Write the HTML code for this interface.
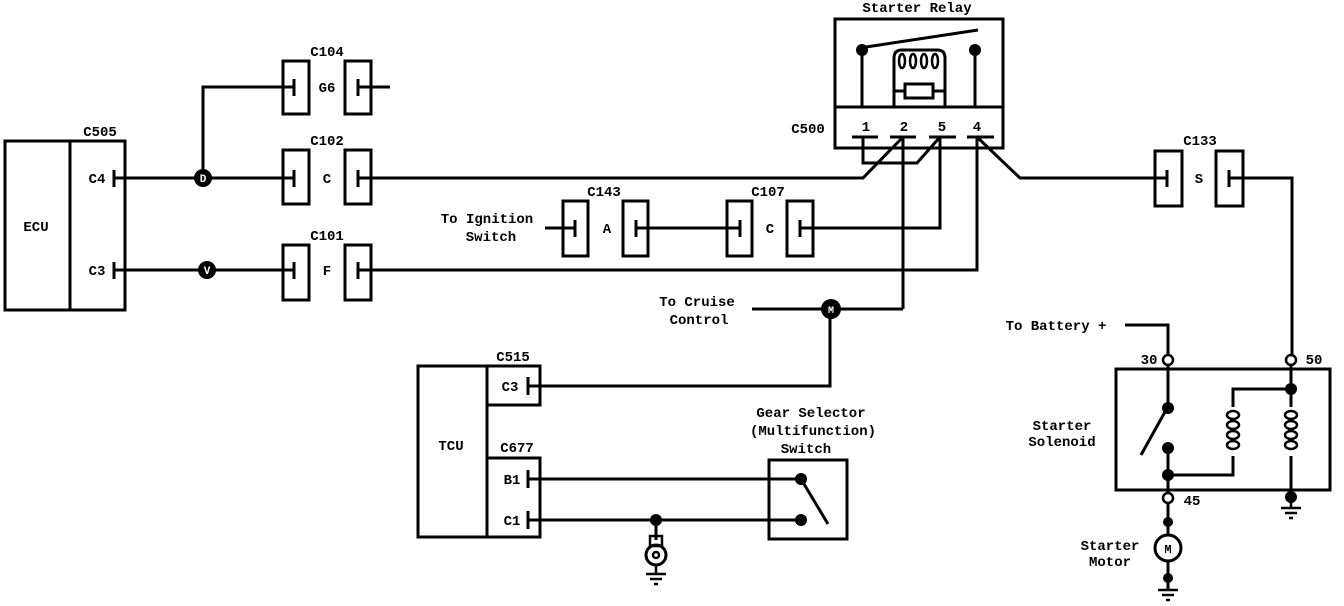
<!DOCTYPE html>
<html><head><meta charset="utf-8"><style>
html,body{margin:0;padding:0;background:#fff;}
svg{display:block}
text{font-family:"Liberation Mono",monospace;font-weight:bold;font-size:14px;fill:#000;text-anchor:middle}
</style></head><body>
<svg width="1344" height="606" viewBox="0 0 1344 606" xmlns="http://www.w3.org/2000/svg">
<g fill="none" stroke="#000" stroke-width="3">
<rect x="5" y="141" width="120" height="169"/>
<line x1="70" y1="141" x2="70" y2="310"/>
<line x1="114" y1="170" x2="114" y2="187"/>
<line x1="114" y1="262" x2="114" y2="279"/>
<line x1="115" y1="178" x2="294" y2="178"/>
<polyline points="203,178 203,87 294,87"/>
<line x1="115" y1="270" x2="294" y2="270"/>
<rect x="283" y="61" width="26" height="53"/><rect x="345" y="61" width="26" height="53"/>
<rect x="283" y="150" width="26" height="54"/><rect x="345" y="150" width="26" height="54"/>
<rect x="283" y="245" width="26" height="55"/><rect x="345" y="245" width="26" height="55"/>
<line x1="294" y1="79" x2="294" y2="96"/><line x1="358" y1="79" x2="358" y2="96"/>
<line x1="358" y1="87" x2="390" y2="87"/>
<line x1="294" y1="170" x2="294" y2="187"/><line x1="358" y1="170" x2="358" y2="187"/>
<line x1="294" y1="262" x2="294" y2="279"/><line x1="358" y1="262" x2="358" y2="279"/>
<polyline points="358,178 863,178 903,137"/>
<polyline points="358,270 977,270 977,137"/>
<rect x="563" y="201" width="25" height="55"/><rect x="623" y="201" width="25" height="55"/>
<rect x="727" y="201" width="25" height="55"/><rect x="787" y="201" width="26" height="55"/>
<line x1="575" y1="220" x2="575" y2="237"/><line x1="636" y1="220" x2="636" y2="237"/>
<line x1="740" y1="220" x2="740" y2="237"/><line x1="800" y1="220" x2="800" y2="237"/>
<line x1="545" y1="228" x2="575" y2="228"/>
<line x1="636" y1="228" x2="740" y2="228"/>
<polyline points="800,228 940,228 940,137"/>
<rect x="835" y="19" width="168" height="129"/>
<line x1="835" y1="107" x2="1003" y2="107"/>
<line x1="862" y1="50" x2="862" y2="107"/><line x1="975" y1="50" x2="975" y2="107"/>
<line x1="866" y1="47" x2="978" y2="30"/>
<path d="M894,107 V58 Q894,50 902,50 H937 Q945,50 945,58 V107"/>
<rect x="905" y="84" width="28" height="14"/>
<line x1="894" y1="91" x2="905" y2="91"/><line x1="933" y1="91" x2="945" y2="91"/>
<line x1="852" y1="137" x2="878" y2="137"/><line x1="890" y1="137" x2="916" y2="137"/>
<line x1="929" y1="137" x2="956" y2="137"/><line x1="967" y1="137" x2="994" y2="137"/>
<polyline points="863,137 863,163 917,163 940,137"/>
<line x1="903" y1="137" x2="903" y2="309"/>
<polyline points="977,137 1020,178 1167,178"/>
<rect x="1155" y="151" width="27" height="55"/><rect x="1216" y="151" width="27" height="55"/>
<line x1="1167" y1="170" x2="1167" y2="187"/><line x1="1229" y1="170" x2="1229" y2="187"/>
<polyline points="1229,178 1292,178 1292,355"/>
<line x1="752" y1="309" x2="903" y2="309"/>
<polyline points="830,309 830,386 528,386"/>
<rect x="418" y="366" width="69" height="171"/>
<rect x="487" y="366" width="53" height="39"/>
<rect x="487" y="458" width="53" height="79"/>
<line x1="528" y1="377" x2="528" y2="395"/>
<line x1="528" y1="470" x2="528" y2="488"/>
<line x1="528" y1="511" x2="528" y2="529"/>
<line x1="528" y1="479" x2="801" y2="479"/>
<line x1="528" y1="520" x2="801" y2="520"/>
<rect x="769" y="460" width="78" height="79"/>
<line x1="801" y1="479" x2="828" y2="524"/>
<line x1="656" y1="520" x2="656" y2="540"/>
<polyline points="1125,325 1168,325 1168,355"/>
<rect x="1116" y="369" width="214" height="121"/>
<line x1="1168" y1="365" x2="1168" y2="408"/>
<line x1="1166" y1="410" x2="1141" y2="455"/>
<polyline points="1168,448 1168,475 1233,475 1233,456"/>
<polyline points="1233,407 1233,389 1291,389 1291,365"/>
<line x1="1291" y1="389" x2="1291" y2="407"/>
<line x1="1291" y1="456" x2="1291" y2="497"/>
<line x1="1168" y1="475" x2="1168" y2="493"/>
<line x1="1168" y1="503" x2="1168" y2="535"/>
<line x1="1168" y1="561" x2="1168" y2="590"/>
</g>
<g fill="none" stroke="#000" stroke-width="2.5">
<ellipse cx="1233" cy="415" rx="6" ry="4"/><ellipse cx="1233" cy="425" rx="6" ry="4"/><ellipse cx="1233" cy="435" rx="6" ry="4"/><ellipse cx="1233" cy="445" rx="6" ry="4"/>
<ellipse cx="1291" cy="415" rx="6" ry="4"/><ellipse cx="1291" cy="425" rx="6" ry="4"/><ellipse cx="1291" cy="435" rx="6" ry="4"/><ellipse cx="1291" cy="445" rx="6" ry="4"/>
<ellipse cx="902" cy="61" rx="3" ry="7"/><ellipse cx="913" cy="61" rx="3" ry="7"/><ellipse cx="924" cy="61" rx="3" ry="7"/><ellipse cx="935" cy="61" rx="3" ry="7"/>
<circle cx="1168" cy="360" r="5"/><circle cx="1291" cy="360" r="5"/><circle cx="1168" cy="498" r="5"/>
<circle cx="1168" cy="548" r="13" stroke-width="3" fill="#fff"/>
<rect x="650" y="536" width="12" height="10"/>
<circle cx="656" cy="555" r="10" stroke-width="3"/><circle cx="656" cy="555" r="3"/>
<line x1="656" y1="565" x2="656" y2="574"/>
</g>
<g stroke="#000" stroke-width="2.5">
<line x1="646" y1="574" x2="666" y2="574"/><line x1="650" y1="579" x2="662" y2="579"/><line x1="654" y1="584" x2="658" y2="584"/>
<line x1="1281" y1="508" x2="1301" y2="508"/><line x1="1285" y1="513" x2="1297" y2="513"/><line x1="1289" y1="518" x2="1293" y2="518"/>
<line x1="1291" y1="497" x2="1291" y2="508"/>
<line x1="1158" y1="590" x2="1178" y2="590"/><line x1="1162" y1="595" x2="1174" y2="595"/><line x1="1166" y1="600" x2="1170" y2="600"/>
</g>
<g fill="#000">
<circle cx="203" cy="178" r="9"/><circle cx="207" cy="270" r="9"/><circle cx="831" cy="309" r="10"/>
<circle cx="862" cy="50" r="6"/><circle cx="975" cy="50" r="6"/>
<circle cx="801" cy="479" r="6"/><circle cx="801" cy="520" r="6"/><circle cx="656" cy="520" r="6"/>
<circle cx="1168" cy="408" r="6"/><circle cx="1168" cy="448" r="6"/><circle cx="1168" cy="475" r="6"/><circle cx="1291" cy="389" r="6"/><circle cx="1291" cy="497" r="6"/>
<circle cx="1168" cy="522" r="5"/><circle cx="1168" cy="578" r="5"/>
</g>
<text x="203" y="182" style="fill:#fff;font-size:11px">D</text>
<text x="207" y="274" style="fill:#fff;font-size:11px">V</text>
<text x="831" y="313" style="fill:#fff;font-size:10px">M</text>
<text x="917" y="12">Starter Relay</text>
<text x="866" y="131">1</text><text x="904" y="131">2</text><text x="942" y="131">5</text><text x="977" y="131">4</text>
<text x="808" y="133">C500</text>
<text x="100" y="136">C505</text>
<text x="36" y="231">ECU</text>
<text x="97" y="183">C4</text><text x="97" y="275">C3</text>
<text x="327" y="56">C104</text><text x="327" y="92">G6</text>
<text x="327" y="145">C102</text><text x="327" y="183">C</text>
<text x="327" y="240">C101</text><text x="327" y="275">F</text>
<text x="604" y="196">C143</text><text x="607" y="233">A</text>
<text x="768" y="196">C107</text><text x="770" y="233">C</text>
<text x="487" y="223">To Ignition</text><text x="491" y="241">Switch</text>
<text x="697" y="306">To Cruise</text><text x="699" y="324">Control</text>
<text x="1200" y="145">C133</text><text x="1199" y="183">S</text>
<text x="1056" y="330">To Battery +</text>
<text x="1149" y="364">30</text><text x="1314" y="364">50</text><text x="1192" y="505">45</text>
<text x="1062" y="430">Starter</text><text x="1062" y="446">Solenoid</text>
<text x="1110" y="550">Starter</text><text x="1110" y="566">Motor</text>
<text x="1168" y="553" style="font-size:12px">M</text>
<text x="513" y="361">C515</text><text x="510" y="391">C3</text>
<text x="451" y="450">TCU</text>
<text x="517" y="452">C677</text><text x="512" y="484">B1</text><text x="512" y="525">C1</text>
<text x="811" y="417">Gear Selector</text><text x="813" y="435">(Multifunction)</text><text x="806" y="453">Switch</text>
</svg>
</body></html>
